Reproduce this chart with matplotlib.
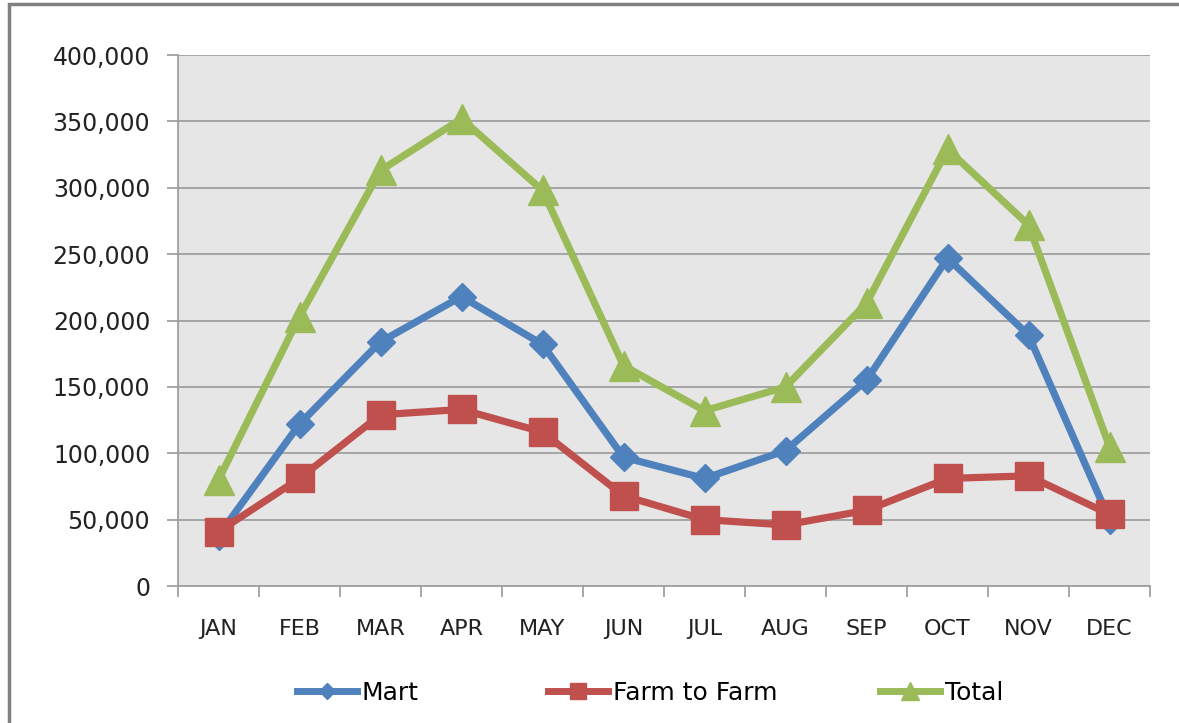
import matplotlib.pyplot as plt
import matplotlib.ticker as mticker
from matplotlib.patches import Rectangle
import numpy as np

months = ["JAN", "FEB", "MAR", "APR", "MAY", "JUN", "JUL", "AUG", "SEP", "OCT", "NOV", "DEC"]
mart = [38000, 122000, 184000, 218000, 182000, 97000, 81000, 102000, 155000, 247000, 189000, 50000]
farm = [41000, 81000, 129000, 133000, 116000, 68000, 50000, 46000, 57000, 81000, 83000, 54000]
total = [80000, 203000, 313000, 352000, 298000, 166000, 132000, 150000, 213000, 329000, 272000, 105000]

series = [
    ("Mart", mart, "#4F81BD", "D", 14),
    ("Farm to Farm", farm, "#C0504D", "s", 20),
    ("Total", total, "#9BBB59", "^", 21),
]

fig = plt.figure(figsize=(11.79, 7.23), dpi=100)
ax = fig.add_axes([178 / 1179, 1 - 586 / 723, (1150 - 178) / 1179, (586 - 55) / 723])
ax.set_facecolor("#E6E6E6")

x = np.arange(len(months))
for name, vals, color, marker, ms in series:
    ax.plot(x, vals, color=color, lw=5.2, marker=marker, markersize=ms,
            markeredgecolor=color, label=name, solid_joinstyle="miter")

ax.set_xlim(-0.5, len(months) - 0.5)
ax.set_ylim(0, 400000)
ax.yaxis.set_major_locator(mticker.MultipleLocator(50000))
ax.yaxis.set_major_formatter(mticker.FuncFormatter(lambda v, p: f"{int(v):,}"))
ax.grid(axis="y", color="#A0A0A0", lw=1.3)
ax.set_axisbelow(True)

ax.set_xticks(np.arange(-0.5, len(months), 1))
ax.set_xticklabels([])
ax.set_xticks(x, minor=True)
ax.set_xticklabels(months, minor=True)
ax.tick_params(axis="x", which="major", length=8, width=1.3, color="#A0A0A0")
ax.tick_params(axis="x", which="minor", length=0, pad=24, labelsize=16, labelcolor="#222222")
ax.tick_params(axis="y", length=8, width=1.3, color="#A0A0A0", pad=12, labelsize=17, labelcolor="#222222")

for s in ["top", "right"]:
    ax.spines[s].set_visible(False)
for s in ["left", "bottom"]:
    ax.spines[s].set_color("#A0A0A0")
    ax.spines[s].set_linewidth(1.3)

# one legend entry per series, placed like Excel's bottom legend
legend_left = [297, 548, 880]
for (name, vals, color, marker, ms), left in zip(series, legend_left):
    h, = ax.plot([], [], color=color, lw=5, marker=marker, markersize=ms * 0.6,
                 markeredgecolor=color)
    leg = fig.legend([h], [name], loc="center left",
                     bbox_to_anchor=(left / 1179, 1 - 693 / 723), frameon=False,
                     fontsize=18, handlelength=2.4, handletextpad=0.2,
                     borderpad=0, borderaxespad=0)

fig.patches.append(Rectangle((9 / 1179, -0.1), 1.2, 1 - 4 / 723 + 0.1, transform=fig.transFigure,
                             fill=False, edgecolor="#808080", lw=2.5, clip_on=False))

fig.savefig("out.png", dpi=100)
